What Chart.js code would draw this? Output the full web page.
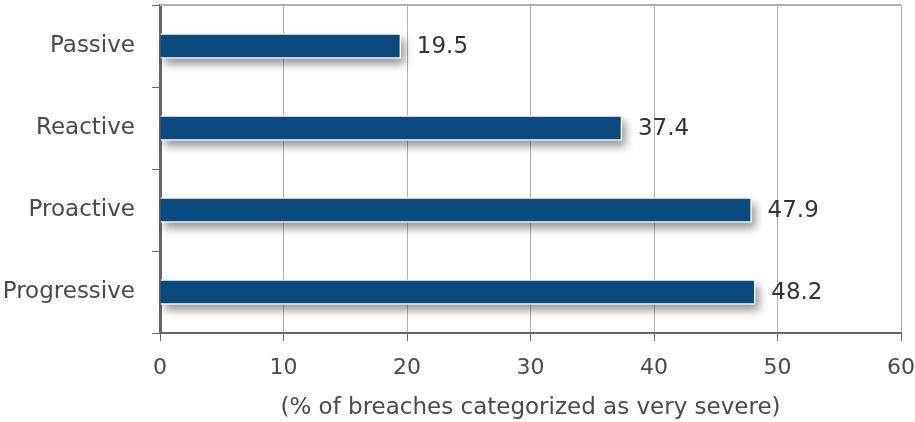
<!DOCTYPE html>
<html>
<head>
<meta charset="utf-8">
<script src="https://cdn.jsdelivr.net/npm/chart.js@4/dist/chart.umd.min.js"></script>
<style>
  html, body { margin: 0; padding: 0; background: #fff; }
  #wrap { width: 915px; height: 422px; }
</style>
</head>
<body>
<div id="wrap"><canvas id="myChart"></canvas></div>
<script>
// severity by security posture
var postures = ['Passive', 'Reactive', 'Proactive', 'Progressive'];
var severePct = [19.5, 37.4, 47.9, 48.2];
var axisTitle = '(% of breaches categorized as very severe)';

var FONT = '"DejaVu Sans", sans-serif';
var TEXT = '#4a4a4a';

// soft drop shadow painted behind each bar
var barShadow = {
    id: 'barShadow',
    beforeDatasetsDraw: function (chart) {
        var ctx = chart.ctx;
        ctx.save();
        ctx.filter = 'blur(4px)';
        ctx.fillStyle = 'rgba(0,0,0,0.4)';
        chart.getDatasetMeta(0).data.forEach(function (bar) {
            var h = bar.height;
            ctx.fillRect(bar.base + 4, bar.y - h / 2 + 6, bar.x - bar.base, h);
        });
        ctx.restore();
    }
};

// value at the end of each bar + top border line
var barValues = {
    id: 'barValues',
    afterDraw: function (chart) {
        var ctx = chart.ctx;
        var area = chart.chartArea;
        ctx.save();
        ctx.strokeStyle = '#b0b0b0';
        ctx.lineWidth = 2;
        ctx.beginPath();
        ctx.moveTo(area.left, area.top);
        ctx.lineTo(area.right, area.top);
        ctx.stroke();

        ctx.font = '23px ' + FONT;
        ctx.fillStyle = '#333';
        ctx.textBaseline = 'middle';
        ctx.textAlign = 'left';
        chart.getDatasetMeta(0).data.forEach(function (bar, i) {
            ctx.fillText(severePct[i].toFixed(1), bar.x + 16, bar.y + 1);
        });
        ctx.restore();
    }
};

var ctx = document.getElementById('myChart').getContext('2d');
var myChart = new Chart(ctx, {
    type: 'bar',
    data: {
        labels: postures,
        datasets: [{
            data: severePct,
            backgroundColor: '#0b4a7e',
            borderColor: '#ffffff',
            borderWidth: 1.5,
            borderSkipped: 'start',
            barThickness: 25
        }]
    },
    options: {
        indexAxis: 'y',
        responsive: true,
        maintainAspectRatio: false,
        animation: false,
        layout: { padding: { top: 5, right: 14, left: 0, bottom: 0 } },
        plugins: {
            legend: { display: false },
            tooltip: { enabled: false }
        },
        scales: {
            x: {
                min: 0,
                max: 60,
                ticks: {
                    stepSize: 10,
                    color: TEXT,
                    font: { family: FONT, size: 22 },
                    padding: 14
                },
                grid: {
                    color: '#b0b0b0',
                    lineWidth: 1,
                    tickColor: '#666',
                    tickLength: 8
                },
                border: { color: '#666', width: 2 },
                title: {
                    display: true,
                    text: axisTitle,
                    color: TEXT,
                    font: { family: FONT, size: 23 },
                    padding: { top: 4, bottom: 0 }
                },
                afterFit: function (scale) {
                    scale.height = 89;
                    scale.paddingLeft = 0;
                    scale.paddingRight = 0;
                }
            },
            y: {
                ticks: {
                    color: TEXT,
                    font: { family: FONT, size: 23 },
                    padding: 17
                },
                grid: {
                    offset: true,
                    drawOnChartArea: false,
                    tickColor: '#666',
                    tickLength: 8
                },
                border: { color: '#666', width: 3 },
                afterFit: function (scale) {
                    scale.width = 160;
                    scale.paddingTop = 0;
                    scale.paddingBottom = 0;
                }
            }
        }
    },
    plugins: [barShadow, barValues]
});
</script>
</body>
</html>
